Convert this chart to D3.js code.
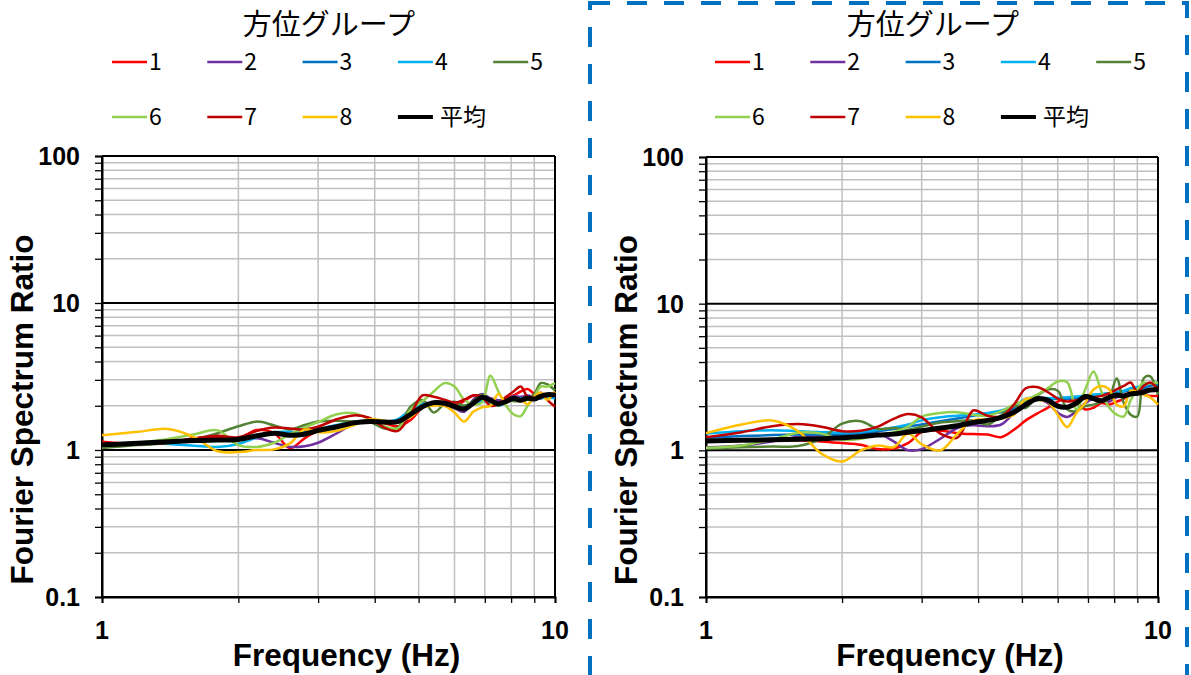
<!DOCTYPE html>
<html><head><meta charset="utf-8">
<script src="https://cdn.jsdelivr.net/npm/d3@7"></script>
<style>body{margin:0;background:#fff}svg{display:block}</style>
</head><body><svg id="c" width="1191" height="675"></svg>
<script>
// ---------- data ----------
const freqs = [1.0,1.2,1.4,1.6,1.8,2.0,2.2,2.4,2.6,2.8,3.0,3.3,3.6,3.9,4.2,4.5,4.8,5.1,5.4,5.7,6.0,6.3,6.6,6.9,7.2,7.5,7.8,8.1,8.4,8.7,9.0,9.3,9.6,10.0];
const seriesNames = ["1","2","3","4","5","6","7","8","平均"];
const seriesColors = ["#FF0000","#7030A0","#0070C0","#00B0F0","#548235","#92D050","#C00000","#FFC000","#000000"];
const legendTitle = "方位グループ";
const yTickLabels = ["0.1","1","10","100"];
const xTickLabels = ["1","10"];
const yTitle = "Fourier Spectrum Ratio";
const xTitle = "Frequency (Hz)";

// left panel
const left1 = [1.14,1.10,1.12,1.20,1.22,1.20,1.37,1.30,1.03,1.20,1.35,1.45,1.55,1.55,1.52,1.45,1.60,1.95,2.10,2.12,2.00,2.15,2.35,2.30,2.10,2.15,2.25,2.35,2.50,2.60,2.40,2.25,2.35,2.30];
const left2 = [1.08,1.10,1.13,1.15,1.17,1.17,1.20,1.12,1.05,1.06,1.12,1.30,1.50,1.58,1.55,1.55,1.72,2.08,2.05,2.00,1.92,1.82,2.20,2.40,2.25,2.18,2.20,2.32,2.30,2.35,2.30,2.25,2.35,2.35];
const left3 = [1.08,1.11,1.14,1.17,1.17,1.18,1.24,1.30,1.30,1.32,1.38,1.45,1.52,1.56,1.55,1.60,1.82,2.00,2.08,2.05,1.98,1.95,2.05,2.20,2.15,2.05,2.12,2.20,2.20,2.25,2.20,2.30,2.30,2.30];
const left4 = [1.10,1.11,1.10,1.07,1.05,1.10,1.22,1.32,1.33,1.30,1.38,1.48,1.55,1.58,1.55,1.62,1.88,2.05,2.10,2.05,1.95,2.00,2.05,2.15,2.10,2.00,2.10,2.20,2.25,2.20,2.20,2.25,2.28,2.25];
const left5 = [1.03,1.08,1.11,1.18,1.30,1.45,1.56,1.47,1.38,1.48,1.56,1.58,1.56,1.55,1.40,1.42,1.97,2.19,1.80,2.05,2.13,2.00,2.15,2.37,2.20,2.00,2.20,2.15,2.15,2.20,2.40,2.85,2.80,2.55];
const left6 = [1.05,1.12,1.19,1.28,1.36,1.08,1.05,1.12,1.28,1.42,1.55,1.75,1.78,1.62,1.45,1.40,1.88,2.15,2.50,2.85,2.70,2.20,2.05,2.10,3.20,2.50,2.00,1.75,1.70,2.00,2.30,2.70,2.70,2.85];
const left7 = [1.12,1.10,1.12,1.20,1.25,1.22,1.35,1.42,1.40,1.38,1.44,1.62,1.72,1.65,1.42,1.35,1.75,2.35,2.30,2.20,2.10,2.20,2.35,2.30,2.00,2.05,2.30,2.50,2.70,2.30,2.30,2.45,2.20,1.97];
const left8 = [1.26,1.33,1.39,1.22,0.98,0.97,1.00,1.01,1.11,1.38,1.32,1.35,1.48,1.62,1.58,1.56,1.67,1.95,2.00,2.00,1.80,1.56,1.82,1.95,2.00,2.40,2.10,2.25,2.20,2.05,2.30,2.45,2.20,2.50];
const leftMean = [1.08,1.11,1.14,1.16,1.17,1.18,1.25,1.30,1.26,1.28,1.36,1.44,1.53,1.56,1.55,1.56,1.75,1.97,2.10,2.08,1.98,1.90,2.08,2.28,2.18,2.06,2.14,2.25,2.18,2.26,2.22,2.32,2.38,2.37];

// right panel
const right1 = [1.17,1.17,1.17,1.17,1.15,1.12,1.09,1.02,1.03,1.12,1.33,1.36,1.31,1.29,1.28,1.23,1.38,1.60,1.78,1.95,2.15,2.25,2.10,1.90,1.95,2.10,2.05,2.15,2.25,2.55,2.65,2.40,2.35,2.35];
const right2 = [1.05,1.08,1.15,1.24,1.26,1.28,1.29,1.30,1.15,1.00,1.02,1.20,1.42,1.48,1.46,1.50,1.80,2.20,2.25,2.10,1.80,1.69,1.85,2.10,2.25,2.20,2.15,2.30,2.35,2.40,2.45,2.55,2.60,2.65];
const right3 = [1.22,1.25,1.27,1.28,1.28,1.28,1.30,1.35,1.40,1.45,1.50,1.58,1.65,1.72,1.78,1.82,1.92,2.10,2.20,2.22,2.25,2.25,2.28,2.30,2.35,2.40,2.45,2.50,2.52,2.55,2.58,2.65,2.75,2.80];
const right4 = [1.30,1.35,1.37,1.35,1.33,1.32,1.34,1.38,1.43,1.50,1.60,1.68,1.72,1.75,1.80,1.87,2.00,2.25,2.28,2.27,2.27,2.30,2.33,2.36,2.40,2.42,2.45,2.50,2.55,2.65,2.70,2.80,2.85,2.90];
const right5 = [1.03,1.05,1.06,1.07,1.20,1.52,1.58,1.40,1.42,1.38,1.45,1.55,1.58,1.60,1.50,1.73,2.00,1.95,2.35,2.60,2.55,1.90,1.85,2.00,2.05,2.15,2.30,3.09,2.10,1.75,1.70,3.10,3.20,2.40];
const right6 = [1.04,1.08,1.18,1.32,1.30,1.18,1.20,1.28,1.33,1.45,1.70,1.80,1.82,1.75,1.72,1.85,2.05,2.20,2.40,2.65,2.95,2.90,1.90,2.60,3.45,2.50,1.95,1.75,1.70,2.20,2.60,2.90,2.85,2.90];
const right7 = [1.23,1.33,1.46,1.51,1.45,1.35,1.36,1.45,1.64,1.77,1.68,1.30,1.22,1.87,1.72,1.70,2.05,2.65,2.70,2.50,2.25,2.15,2.20,2.25,2.30,2.35,2.45,2.60,2.75,2.90,2.50,2.75,2.90,2.60];
const right8 = [1.31,1.50,1.60,1.35,0.95,0.84,1.00,1.08,1.05,1.30,1.10,1.00,1.30,1.60,1.62,1.65,1.75,2.25,2.20,2.15,1.75,1.44,1.80,2.10,2.60,2.75,2.60,2.05,2.00,2.55,2.50,2.40,2.30,2.05];
const rightMean = [1.16,1.17,1.18,1.19,1.20,1.22,1.24,1.27,1.29,1.33,1.36,1.42,1.47,1.55,1.60,1.68,1.82,2.05,2.25,2.20,2.00,1.97,2.10,2.33,2.25,2.18,2.30,2.38,2.35,2.42,2.45,2.50,2.58,2.60];

// ---------- drawing ----------
const svg = d3.select("#c");
const AX = "'Liberation Sans', Arial, sans-serif";
const JP = "'Noto Sans CJK JP', 'Noto Sans', sans-serif";

// dashed frame around right panel
svg.append("rect").attr("x",590).attr("y",3).attr("width",597).attr("height",720)
  .attr("fill","none").attr("stroke","#0070C0").attr("stroke-width",4)
  .attr("stroke-dasharray","20,17");

const panels = [
  {series:[left1,left2,left3,left4,left5,left6,left7,left8,leftMean], x0:102, x1:555, y0:156, y1:597, legX:112, titleX:329},
  {series:[right1,right2,right3,right4,right5,right6,right7,right8,rightMean], x0:706, x1:1158, y0:157, y1:597, legX:715, titleX:933}
];

const minorY = [];
[0.1,1,10].forEach(d=>{ for(let k=2;k<=9;k++) minorY.push(+(d*k).toPrecision(3)); });
const majorY = yTickLabels.map(Number);
const minorX = []; for(let k=2;k<=9;k++) minorX.push(k);
const majorX = xTickLabels.map(Number);

panels.forEach(p=>{
  const x = d3.scaleLog().domain([1,10]).range([p.x0,p.x1]);
  const y = d3.scaleLog().domain([0.1,100]).range([p.y1,p.y0]);
  const g = svg.append("g");

  // minor grid
  g.append("g").selectAll("line").data(minorY).join("line")
    .attr("x1",p.x0).attr("x2",p.x1).attr("y1",d=>y(d)).attr("y2",d=>y(d))
    .attr("stroke","#C0C0C0").attr("stroke-width",1.5);
  g.append("g").selectAll("line").data(minorX).join("line")
    .attr("y1",p.y0).attr("y2",p.y1).attr("x1",d=>x(d)).attr("x2",d=>x(d))
    .attr("stroke","#C0C0C0").attr("stroke-width",1.5);
  // major grid
  g.append("g").selectAll("line").data(majorY).join("line")
    .attr("x1",p.x0).attr("x2",p.x1).attr("y1",d=>y(d)).attr("y2",d=>y(d))
    .attr("stroke","#000").attr("stroke-width",2);
  g.append("g").selectAll("line").data(majorX).join("line")
    .attr("y1",p.y0).attr("y2",p.y1).attr("x1",d=>x(d)).attr("x2",d=>x(d))
    .attr("stroke","#000").attr("stroke-width",2);

  // axis ticks
  const yAxis = d3.axisLeft(y).tickValues(minorY.concat(majorY)).tickSize(7).tickFormat("");
  g.append("g").attr("transform",`translate(${p.x0},0)`).call(yAxis)
    .call(s=>s.select(".domain").attr("stroke","#000").attr("stroke-width",2))
    .call(s=>s.selectAll(".tick line").attr("stroke","#000").attr("stroke-width",1.3));
  const xAxis = d3.axisBottom(x).tickValues(minorX.concat(majorX)).tickSize(6).tickFormat("");
  g.append("g").attr("transform",`translate(0,${p.y1})`).call(xAxis)
    .call(s=>s.select(".domain").attr("stroke","#000").attr("stroke-width",2))
    .call(s=>s.selectAll(".tick line").attr("stroke","#000").attr("stroke-width",1.3));

  // tick labels
  g.append("g").selectAll("text").data(yTickLabels).join("text")
    .attr("x",p.x0-22).attr("y",d=>y(+d)).attr("dy","0.36em")
    .attr("text-anchor","end").attr("font-family",AX).attr("font-weight","bold")
    .attr("font-size",25).text(d=>d);
  g.append("g").selectAll("text").data(xTickLabels).join("text")
    .attr("x",d=>x(+d)).attr("y",p.y1+33).attr("dy","0.36em")
    .attr("text-anchor","middle").attr("font-family",AX).attr("font-weight","bold")
    .attr("font-size",25).text(d=>d);

  // axis titles
  g.append("text").attr("transform",`translate(${p.x0-69},${(p.y0+p.y1)/2+33}) rotate(-90)`)
    .attr("text-anchor","middle").attr("font-family",AX).attr("font-weight","bold")
    .attr("font-size",31.5).text(yTitle);
  g.append("text").attr("x",(p.x0+p.x1)/2+18).attr("y",666)
    .attr("text-anchor","middle").attr("font-family",AX).attr("font-weight","bold")
    .attr("font-size",31.5).text(xTitle);

  // series lines
  const line = d3.line().x(d=>x(d[0])).y(d=>y(d[1])).curve(d3.curveCatmullRom.alpha(0.5));
  p.series.forEach((vals,i)=>{
    const pts = freqs.map((f,j)=>[f,vals[j]]);
    g.append("path").attr("d",line(pts)).attr("fill","none")
      .attr("stroke",seriesColors[i]).attr("stroke-width", i===8?5:2.5)
      .attr("stroke-linejoin","round");
  });

  // legend
  g.append("text").attr("x",p.titleX).attr("y",35)
    .attr("text-anchor","middle").attr("font-family",JP).attr("font-size",29).text(legendTitle);
  seriesNames.forEach((nm,i)=>{
    const col = i%5, row = Math.floor(i/5);
    const lx = p.legX + col*95.3, ly = 62 + row*55;
    g.append("line").attr("x1",lx).attr("x2",lx+35).attr("y1",ly).attr("y2",ly)
      .attr("stroke",seriesColors[i]).attr("stroke-width", i===8?4:2.5);
    g.append("text").attr("x",lx+(i===8?42:37)).attr("y",ly).attr("dy","0.36em")
      .attr("font-family",JP).attr("font-size",23).text(nm);
  });
});
</script></body></html>
